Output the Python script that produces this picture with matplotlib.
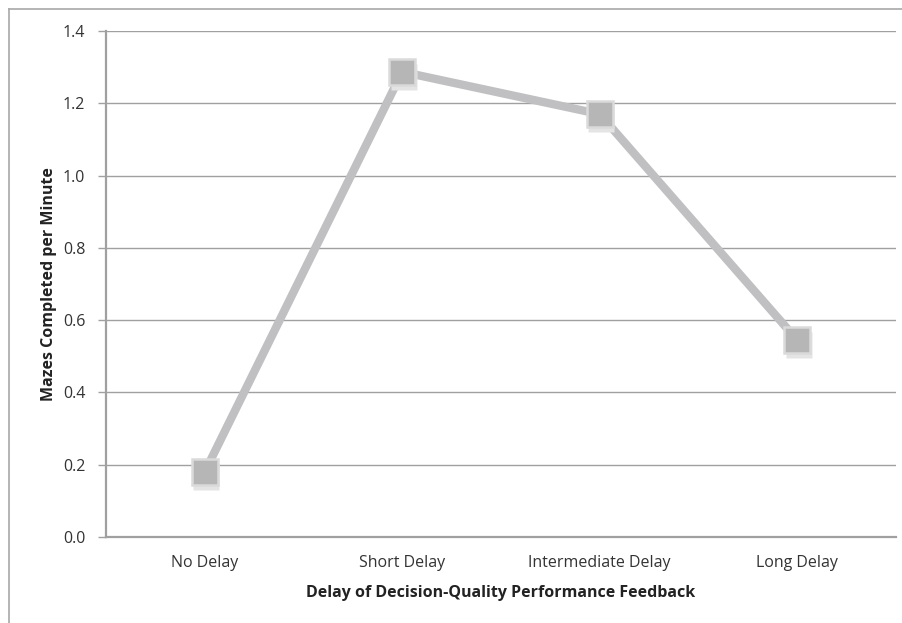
import matplotlib
matplotlib.use("Agg")
import matplotlib.pyplot as plt
from matplotlib.lines import Line2D
import numpy as np

# データ
categories = ["No Delay", "Short Delay", "Intermediate Delay", "Long Delay"]
mazes_per_min = [0.18, 1.287, 1.17, 0.545]
y_ticks = [0.0, 0.2, 0.4, 0.6, 0.8, 1.0, 1.2, 1.4]

plt.rcParams['font.family'] = ['Open Sans', 'DejaVu Sans']

W, H = 903, 623
fig = plt.figure(figsize=(W / 100, H / 100), dpi=100)
# プロット領域 (px)
left, right, top, bottom = 106, 896, 31, 537
ax = fig.add_axes([left / W, 1 - bottom / H, (right - left) / W, (bottom - top) / H])

grid_c = "#a0a0a0"
x = np.arange(len(categories))
ax.plot(x, mazes_per_min, color="#c0c0c2", lw=6, solid_capstyle="butt", zorder=3)
# 影
ax.plot(x + 0.008, np.array(mazes_per_min) - 0.014, ls="none", marker="s", ms=19,
        mfc="#e4e4e4", mec="none", zorder=3.5)
ax.plot(x, mazes_per_min, ls="none", marker="s", ms=18.5,
        mfc="#b6b6b6", mec="#dadada", mew=1.8, zorder=4)

ax.set_xlim(-0.5, len(categories) - 0.5)
ax.set_ylim(0, 1.4)
ax.set_yticks(y_ticks)
ax.set_yticklabels([f"{v:.1f}" for v in y_ticks], fontsize=11.5, color="#333333")
ax.set_xticks(x)
ax.set_xticklabels(categories, fontsize=11.5, color="#333333")
ax.tick_params(axis="x", length=0, pad=13)
ax.tick_params(axis="y", length=6, width=1, color=grid_c, pad=9)
ax.yaxis.grid(True, color=grid_c, lw=1)
ax.set_axisbelow(True)
for s in ["top", "right"]:
    ax.spines[s].set_visible(False)
for s in ["left", "bottom"]:
    ax.spines[s].set_color(grid_c)
    ax.spines[s].set_linewidth(1.6)

ax.set_xlabel("Delay of Decision-Quality Performance Feedback", fontsize=11.5,
              fontweight="bold", color="#222222", labelpad=10)
ax.set_ylabel("Mazes Completed per Minute", fontsize=11.5, fontweight="bold",
              color="#222222", labelpad=4)

# 外枠
fig.add_artist(Line2D([9 / W, 9 / W], [0, 1 - 9 / H], color="#a8a8a8", lw=1.2))
fig.add_artist(Line2D([9 / W, 1], [1 - 9 / H, 1 - 9 / H], color="#a8a8a8", lw=1.2))

fig.savefig("out.png", dpi=100)
